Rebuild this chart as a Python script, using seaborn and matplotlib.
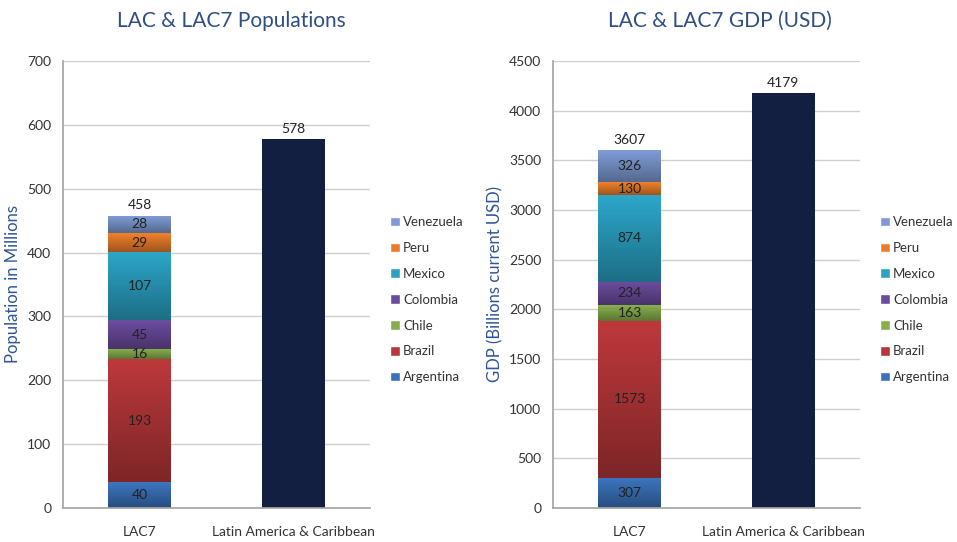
import numpy as np
import pandas as pd
import matplotlib.pyplot as plt
import matplotlib.colors as mcolors
from matplotlib.patches import Patch
import seaborn as sns

# Stack order, bottom to top.
COUNTRIES = ['Argentina', 'Brazil', 'Chile', 'Colombia', 'Mexico', 'Peru', 'Venezuela']
COUNTRY_COLORS = ['#3B72BA', '#B8373A', '#87AE4C', '#6A4B9C', '#2BA2C4', '#EA7D2A', '#7D9AD2']
CATEGORIES = ['LAC7', 'Latin America & Caribbean']

POP_LAC7 = [40, 193, 16, 45, 107, 29, 28]
POP_LAC = 578
GDP_LAC7 = [307, 1573, 163, 234, 874, 130, 326]
GDP_LAC = 4179

LAC_COLOR = '#131F40'
TITLE_COLOR = '#2F4E86'
LABEL_COLOR = '#2F5597'
TEXT_COLOR = '#333333'
BAR_WIDTH = 0.41


def _shade(patch, ax, color):
    # Excel style vertical gradient: light at the top, darker at the bottom.
    rgb = np.array(mcolors.to_rgb(color))
    t = np.linspace(0, 1, 64)[:, None]
    top = np.clip(rgb * 1.03, 0, 1)
    bottom = rgb * 0.68
    grad = top * (1 - t) + bottom * t
    img = np.concatenate([grad, np.ones((64, 1))], axis=1)[:, None, :]
    x, y = patch.get_x(), patch.get_y()
    w, h = patch.get_width(), patch.get_height()
    im = ax.imshow(img, extent=[x, x + w, y, y + h], aspect='auto',
                   origin='upper', zorder=patch.get_zorder() + 0.1)
    im.set_clip_path(patch)


def _stacked_panel(ax, values, lac_value, ymax, ystep, ylabel, title, title_x, fig):
    df = pd.DataFrame({'group': 'LAC7', 'country': COUNTRIES, 'value': values})
    df['bottom'] = df['value'].cumsum() - df['value']

    n_before = 0
    for country, color in zip(COUNTRIES, COUNTRY_COLORS):
        row = df[df['country'] == country]
        sns.barplot(data=row, x='group', y='value', order=CATEGORIES, color=color,
                    width=BAR_WIDTH, bottom=row['bottom'].values, ax=ax, zorder=2,
                    linewidth=0)
        for p in ax.patches[n_before:]:
            if p.get_height() > 0:
                _shade(p, ax, color)
        n_before = len(ax.patches)

    lac = pd.DataFrame({'group': [CATEGORIES[1]], 'value': [lac_value]})
    sns.barplot(data=lac, x='group', y='value', order=CATEGORIES, color=LAC_COLOR,
                width=BAR_WIDTH, ax=ax, zorder=2, linewidth=0, saturation=1)

    # Segment labels
    for _, r in df.iterrows():
        ax.text(0, r['bottom'] + r['value'] / 2, f"{r['value']}", ha='center',
                va='center', fontsize=10, color='#222222', zorder=5)
    total = int(df['value'].sum())
    ax.annotate(f"{total}", (0, total), xytext=(0, 3), textcoords='offset points',
                ha='center', va='bottom', fontsize=10, color='#222222')
    ax.annotate(f"{lac_value}", (1, lac_value), xytext=(0, 3), textcoords='offset points',
                ha='center', va='bottom', fontsize=10, color='#222222')

    ax.set_xlim(-0.5, 1.5)
    ax.set_ylim(0, ymax)
    ax.set_yticks(np.arange(0, ymax + 1, ystep))
    ax.set_xticks([0, 1])
    ax.set_xticklabels(CATEGORIES)
    ax.set_xticks([-0.5, 0.5, 1.5], minor=True)
    ax.tick_params(axis='x', which='major', length=0, pad=13, labelsize=10, labelcolor=TEXT_COLOR)
    ax.tick_params(axis='x', which='minor', length=5, color='#A6A6A6')
    ax.tick_params(axis='y', length=5, color='#A6A6A6', labelsize=10, labelcolor=TEXT_COLOR)
    ax.set_xlabel('')
    ax.set_ylabel(ylabel, fontsize=12, color=LABEL_COLOR)
    ax.yaxis.grid(True, color='#CFCFCF', linewidth=1, zorder=0)
    ax.xaxis.grid(False)
    ax.set_axisbelow(True)
    sns.despine(ax=ax)
    for side in ['left', 'bottom']:
        ax.spines[side].set_color('#A6A6A6')

    handles = [Patch(facecolor=c, label=n) for n, c in zip(COUNTRIES, COUNTRY_COLORS)][::-1]
    ax.legend(handles=handles, loc='center left', bbox_to_anchor=(1.065, 0.466),
              frameon=False, fontsize=9.5, handlelength=0.75, handleheight=0.75,
              handletextpad=0.25, labelspacing=1.05, borderpad=0, borderaxespad=0,
              labelcolor=TEXT_COLOR)

    fig.text(title_x, 0.962, title, ha='center', va='center', fontsize=15, color=TITLE_COLOR)


def main():
    sns.set_theme(style='white')
    plt.rcParams['font.family'] = ['Lato', 'DejaVu Sans']

    fig = plt.figure(figsize=(9.57, 5.42), dpi=100)
    ax1 = fig.add_axes([0.0658, 0.0627, 0.3208, 0.8248])
    ax2 = fig.add_axes([0.5778, 0.0627, 0.3208, 0.8248])

    _stacked_panel(ax1, POP_LAC7, POP_LAC, 700, 100, 'Population in Millions',
                   'LAC & LAC7 Populations', 231 / 957, fig)
    _stacked_panel(ax2, GDP_LAC7, GDP_LAC, 4500, 500, 'GDP (Billions current USD)',
                   'LAC & LAC7 GDP (USD)', 720 / 957, fig)

    fig.savefig('out.png', dpi=100)
    plt.close(fig)


if __name__ == '__main__':
    main()
